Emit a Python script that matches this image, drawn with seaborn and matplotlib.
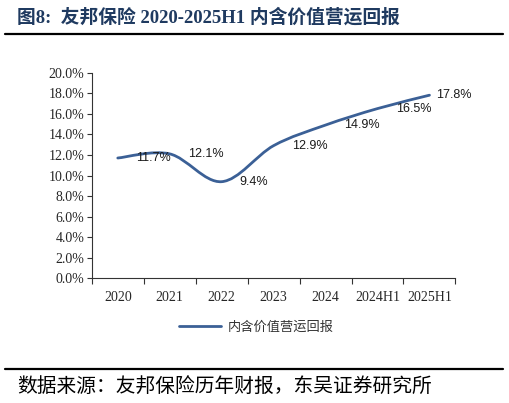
import numpy as np
import matplotlib
matplotlib.use("Agg")
import matplotlib.pyplot as plt
from matplotlib.path import Path
from matplotlib.patches import PathPatch
from matplotlib.lines import Line2D
import seaborn as sns

# 内含价值营运回报 (%)
periods = ['2020', '2021', '2022', '2023', '2024', '2024H1', '2025H1']
ev_return = [11.7, 12.1, 9.4, 12.9, 14.9, 16.5, 17.8]
series_name = '内含价值营运回报'
y_ticks = [0, 2, 4, 6, 8, 10, 12, 14, 16, 18, 20]

LINE_COLOR = '#3B6096'
CJK = ['Noto Sans CJK SC', 'DejaVu Sans']
SERIF = 'Liberation Serif'
SANS = 'Liberation Sans'


def smooth_path(xs, ys):
    """Excel-style smoothed line: cubic Bezier through every data point"""
    pts = np.column_stack([xs, ys]).astype(float)
    padded = np.vstack([pts[0], pts, pts[-1]])
    verts = [pts[0]]
    codes = [Path.MOVETO]
    for i in range(len(pts) - 1):
        p0, p1, p2, p3 = padded[i], padded[i + 1], padded[i + 2], padded[i + 3]
        verts += [p1 + (p2 - p0) / 6, p2 - (p3 - p1) / 6, p2]
        codes += [Path.CURVE4] * 3
    return Path(verts, codes)


sns.set_theme(style='ticks')
plt.rcParams['font.family'] = CJK

fig = plt.figure(figsize=(5.1, 4.03), dpi=100)
ax = fig.add_axes([0.18, 0.309, 0.713, 0.511])

xpos = np.arange(len(periods))
sns.lineplot(x=xpos, y=ev_return, ax=ax, color=LINE_COLOR, linewidth=2)
base_line = ax.lines[0]
base_line.set_visible(False)
ax.add_patch(PathPatch(smooth_path(xpos, ev_return), fill=False,
                       edgecolor=LINE_COLOR, linewidth=2, capstyle='round'))

# data labels
for i, v in enumerate(ev_return):
    dx = 5 if i == len(ev_return) - 1 else 13
    ax.annotate(f'{v:.1f}%', (xpos[i], v), xytext=(dx, 0),
                textcoords='offset points', ha='left', va='center',
                fontsize=9, family=SANS, color='#1a1a1a')

ax.set_xlim(-0.5, len(periods) - 0.5)
ax.set_ylim(0, 20)
ax.set_yticks(y_ticks)
ax.set_yticklabels([f'{t:.1f}%' for t in y_ticks], family=SERIF, fontsize=10)
ax.set_xticks(np.arange(len(periods) + 1) - 0.5)
ax.set_xticklabels([])
ax.set_xticks(xpos, minor=True)
ax.set_xticklabels(periods, minor=True, family=SERIF, fontsize=10)
ax.tick_params(axis='x', which='major', length=4, width=0.8, color='#333333')
ax.tick_params(axis='x', which='minor', length=0, pad=9)
ax.tick_params(axis='y', length=3.5, width=0.8, color='#333333', pad=2)
ax.set_xlabel('')
ax.set_ylabel('')
for side in ['top', 'right']:
    ax.spines[side].set_visible(False)
for side in ['left', 'bottom']:
    ax.spines[side].set_color('#333333')
    ax.spines[side].set_linewidth(0.8)

handle = Line2D([], [], color=LINE_COLOR, linewidth=2)
fig.legend([handle], [series_name], loc='center', bbox_to_anchor=(0.503, 0.189),
           frameon=False, prop={'family': CJK, 'size': 9.5}, handlelength=3.2,
           handletextpad=0.5, labelcolor='#333333')

# title, rules and source
fig.text(0.033, 0.958, '图8:  友邦保险 2020-2025H1 内含价值营运回报', ha='left', va='center',
         fontsize=13.5, fontweight='bold', color='#1F3A60',
         family=['Liberation Serif', 'Noto Sans CJK SC'])
fig.add_artist(Line2D([5 / 510, 503 / 510], [1 - 34 / 403] * 2, color='black', linewidth=1.6))
fig.add_artist(Line2D([5 / 510, 503 / 510], [1 - 369 / 403] * 2, color='black', linewidth=1.6))
fig.text(0.033, 1 - 387 / 403, '数据来源：友邦保险历年财报，东吴证券研究所', ha='left', va='center',
         fontsize=14.2, color='black', family=CJK)

fig.savefig('out.png', dpi=100)
